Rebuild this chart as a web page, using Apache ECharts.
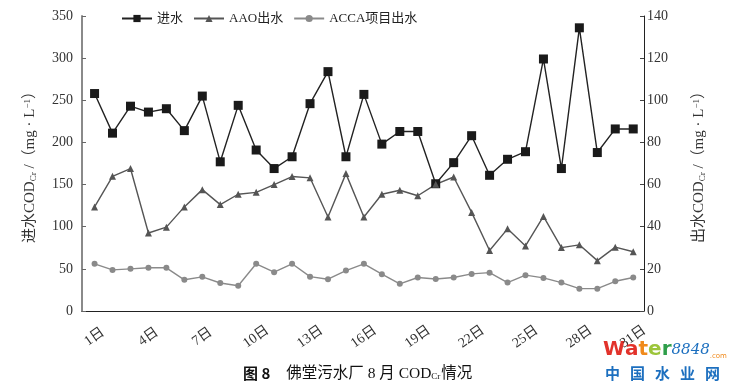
<!DOCTYPE html>
<html>
<head>
<meta charset="utf-8">
<script src="https://cdn.jsdelivr.net/npm/echarts@6/dist/echarts.min.js"></script>
<style>
html,body{margin:0;padding:0;background:#fff;}
#chart{width:732px;height:389px;}
</style>
</head>
<body>
<div id="chart"></div>
<script>
const days = [1,2,3,4,5,6,7,8,9,10,11,12,13,14,15,16,17,18,19,20,21,22,23,24,25,26,27,28,29,30,31];
const labelDays = [1,4,7,10,13,16,19,22,25,28,31];
const influent = [258,211,243,236,240,214,255,177,244,191,169,183,246,284,183,257,198,213,213,151,176,208,161,180,189,299,169,336,188,216,216];
const aaoEffluent = [49.4,63.9,67.6,37.0,39.8,49.4,57.6,50.5,55.4,56.3,60.0,63.8,63.2,44.6,65.2,44.6,55.4,57.3,54.7,60.1,63.6,46.8,28.7,39.0,30.9,44.9,30.1,31.4,23.9,30.3,28.1];
const accaEffluent = [22.4,19.5,20.0,20.5,20.5,14.8,16.2,13.3,12.0,22.4,18.4,22.4,16.3,15.1,19.2,22.4,17.5,12.9,15.9,15.2,15.9,17.6,18.2,13.5,17.0,15.7,13.5,10.6,10.6,14.1,15.9];
const leftTicks = [0,50,100,150,200,250,300,350];
const rightTicks = [0,20,40,60,80,100,120,140];

const serif = '"Liberation Serif","Noto Sans CJK SC",serif';
const pair = arr => arr.map((v,i)=>[days[i], v]);
const cjkChar = {fontFamily:'"Noto Sans CJK SC",sans-serif', fontWeight:'bold', fontSize:15, fill:'#1c6fbf', padding:[0,10,0,0]};

const chart = echarts.init(document.getElementById('chart'));
chart.setOption({
  animation:false,
  backgroundColor:'#fff',
  textStyle:{fontFamily:serif},
  grid:{left:82, right:88, top:16, bottom:78},
  legend:{
    left:116, top:7, itemWidth:30, itemHeight:9, itemGap:10,
    textStyle:{fontFamily:serif, fontSize:13, color:'#222'},
    data:['进水','AAO出水','ACCA项目出水']
  },
  xAxis:{
    type:'value', min:0.3, max:31.6,
    splitLine:{show:false},
    axisLine:{show:true, onZero:false, lineStyle:{color:'#222', width:1}},
    axisTick:{show:false},
    axisLabel:{
      customValues:labelDays,
      formatter:v=>v+'日',
      rotate:35, align:'center', verticalAlign:'middle', margin:26,
      fontFamily:serif, fontSize:14, color:'#333'
    }
  },
  yAxis:[{
    type:'value', min:0, max:350, interval:50,
    position:'left',
    splitLine:{show:false},
    axisLine:{show:true, lineStyle:{color:'#8a8a8a', width:2}},
    axisTick:{show:true, inside:true, length:4, lineStyle:{color:'#666'}},
    axisLabel:{fontFamily:serif, fontSize:14, color:'#333', margin:9},
    name:'{a|进水COD}{s|Cr}{a| /（mg · L}{p|−1}{a|）}',
    nameLocation:'middle', nameGap:44, nameRotate:90,
    nameTextStyle:{
      color:'#333',
      rich:{
        a:{fontFamily:serif, fontSize:15, color:'#333'},
        s:{fontFamily:serif, fontSize:9, color:'#333', verticalAlign:'bottom', padding:[6,0,0,0]},
        p:{fontFamily:serif, fontSize:9, color:'#333', verticalAlign:'top'}
      }
    }
  },{
    type:'value', min:0, max:140, interval:20,
    position:'right',
    splitLine:{show:false},
    axisLine:{show:true, lineStyle:{color:'#222', width:1}},
    axisTick:{show:true, inside:true, length:4, lineStyle:{color:'#444'}},
    axisLabel:{fontFamily:serif, fontSize:14, color:'#333', margin:3},
    name:'{a|出水COD}{s|Cr}{a| /（mg · L}{p|−1}{a|）}',
    nameLocation:'middle', nameGap:48, nameRotate:90,
    nameTextStyle:{
      color:'#333',
      rich:{
        a:{fontFamily:serif, fontSize:15, color:'#333'},
        s:{fontFamily:serif, fontSize:9, color:'#333', verticalAlign:'bottom', padding:[6,0,0,0]},
        p:{fontFamily:serif, fontSize:9, color:'#333', verticalAlign:'top'}
      }
    }
  }],
  series:[{
    name:'进水', type:'line', yAxisIndex:0,
    data:pair(influent),
    symbol:'rect', symbolSize:9,
    itemStyle:{color:'#1a1a1a'},
    lineStyle:{color:'#222', width:1.4}
  },{
    name:'AAO出水', type:'line', yAxisIndex:1,
    data:pair(aaoEffluent),
    symbol:'triangle', symbolSize:7,
    itemStyle:{color:'#555'},
    lineStyle:{color:'#555', width:1.4}
  },{
    name:'ACCA项目出水', type:'line', yAxisIndex:1,
    data:pair(accaEffluent),
    symbol:'circle', symbolSize:6,
    itemStyle:{color:'#8a8a8a'},
    lineStyle:{color:'#8a8a8a', width:1.4}
  }],
  graphic:[{
    type:'text', left:243, top:366,
    style:{
      text:'{b|图 8}{t|佛堂污水厂 8 月 COD}{s|Cr}{t|情况}',
      rich:{
        b:{fontFamily:'"Noto Sans CJK SC",sans-serif', fontWeight:'bold', fontSize:15, fill:'#111', padding:[0,16,0,0]},
        t:{fontFamily:serif, fontSize:15.5, fill:'#111'},
        s:{fontFamily:serif, fontSize:9, fill:'#111', verticalAlign:'bottom', padding:[6,1,0,0]}
      }
    }
  },{
    type:'text', left:603, top:340,
    style:{
      text:'{w|W}{a|a}{t|t}{e|e}{r|r}{n|8848}{c|.com}',
      rich:{
        w:{fontFamily:'"DejaVu Sans",sans-serif', fontWeight:'bold', fontSize:20, fill:'#e2322b'},
        a:{fontFamily:'"DejaVu Sans",sans-serif', fontWeight:'bold', fontSize:20, fill:'#e2322b'},
        t:{fontFamily:'"DejaVu Sans",sans-serif', fontWeight:'bold', fontSize:20, fill:'#f08a1c'},
        e:{fontFamily:'"DejaVu Sans",sans-serif', fontWeight:'bold', fontSize:20, fill:'#9cc53a'},
        r:{fontFamily:'"DejaVu Sans",sans-serif', fontWeight:'bold', fontSize:20, fill:'#2e9e4a'},
        n:{fontFamily:'"DejaVu Serif",serif', fontStyle:'italic', fontSize:15, fill:'#1c6fbf'},
        c:{fontFamily:'"DejaVu Sans",sans-serif', fontSize:7, fill:'#f08a1c', verticalAlign:'bottom'}
      }
    }
  },{
    type:'text', left:605, top:366,
    style:{
      text:'{c|中}{c|国}{c|水}{c|业}{d|网}',
      rich:{
        c:cjkChar,
        d:{fontFamily:'"Noto Sans CJK SC",sans-serif', fontWeight:'bold', fontSize:15, fill:'#1c6fbf'}
      }
    }
  }]
});
</script>
</body>
</html>
